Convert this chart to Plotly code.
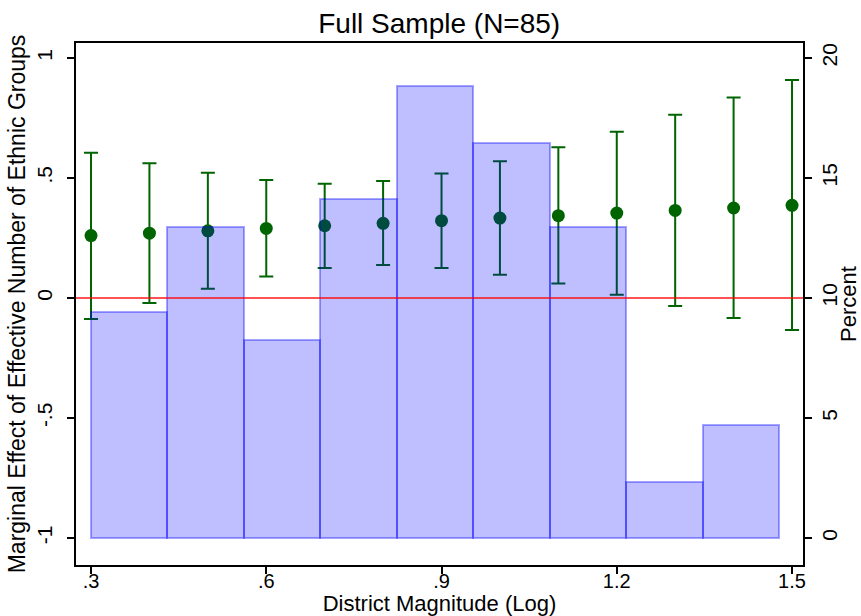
import plotly.graph_objects as go

# ---- data ----
x_vals = [0.3, 0.4, 0.5, 0.6, 0.7, 0.8, 0.9, 1.0, 1.1, 1.2, 1.3, 1.4, 1.5]
effect = [0.260, 0.270, 0.280, 0.290, 0.301, 0.311, 0.322, 0.333, 0.343, 0.354, 0.365, 0.375, 0.386]
ci_low = [-0.088, -0.021, 0.039, 0.090, 0.125, 0.138, 0.125, 0.097, 0.060, 0.014, -0.033, -0.083, -0.133]
ci_high = [0.605, 0.561, 0.522, 0.492, 0.476, 0.488, 0.519, 0.570, 0.628, 0.693, 0.764, 0.835, 0.908]

hist_counts = [8, 11, 7, 12, 16, 14, 11, 2, 4]
n_obs = 85
bin_start = 0.3
bin_width = 0.1309

x_ticks = [0.3, 0.6, 0.9, 1.2, 1.5]
x_ticklabels = [".3", ".6", ".9", "1.2", "1.5"]
y_ticks = [-1, -0.5, 0, 0.5, 1]
y_ticklabels = ["-1", "-.5", "0", ".5", "1"]
y2_ticks = [0, 5, 10, 15, 20]
y2_ticklabels = ["0", "5", "10", "15", "20"]

# ---- derived ----
hist_pct = [c / n_obs * 100 for c in hist_counts]
bin_centers = [bin_start + bin_width * (i + 0.5) for i in range(len(hist_counts))]
err_plus = [h - e for h, e in zip(ci_high, effect)]
err_minus = [e - l for e, l in zip(effect, ci_low)]

FONT = "Arial, Liberation Sans, sans-serif"
green = "#006400"

fig = go.Figure()

fig.add_trace(go.Scatter(
    x=x_vals, y=effect, mode="markers",
    marker=dict(color=green, size=13),
    error_y=dict(type="data", symmetric=False, array=err_plus, arrayminus=err_minus,
                 color=green, thickness=2, width=7),
    yaxis="y", showlegend=False,
))

fig.add_trace(go.Bar(
    x=bin_centers, y=hist_pct, width=[bin_width] * len(hist_pct),
    marker=dict(color="rgba(0,0,255,0.25)", line=dict(color="rgba(0,0,255,0.35)", width=2)),
    yaxis="y2", showlegend=False,
))

fig.add_shape(type="line", xref="paper", x0=0, x1=1, yref="y", y0=0, y1=0,
              line=dict(color="rgba(255,0,0,0.9)", width=1.3), layer="above")

axis_common = dict(showline=True, linecolor="black", linewidth=1.5, ticks="outside", ticklen=7,
                   tickcolor="black", tickwidth=1.5, showgrid=False, zeroline=False,
                   automargin=False)

fig.update_layout(
    width=861, height=616,
    margin=dict(l=76, r=58, t=43, b=51),
    paper_bgcolor="white", plot_bgcolor="white",
    font=dict(family=FONT, color="black"),
    title=dict(text="Full Sample (N=85)", x=0.5101, xanchor="center", y=0.962, yanchor="middle",
               font=dict(size=28, family=FONT)),
    bargap=0,
    xaxis=dict(range=[0.2743, 1.5188], tickvals=x_ticks, ticktext=x_ticklabels,
               mirror=True, tickfont=dict(size=20), ticklabelstandoff=-10,
               title=dict(text="District Magnitude (Log)", font=dict(size=22), standoff=3),
               **axis_common),
    yaxis=dict(range=[-1.1125, 1.0625], tickvals=y_ticks, ticktext=y_ticklabels,
               tickangle=-90, tickfont=dict(size=21), ticklabelstandoff=7,
               title=dict(text="Marginal Effect of Effective Number of Ethnic Groups",
                          font=dict(size=23), standoff=1),
               **axis_common),
    yaxis2=dict(range=[-1.125, 20.625], tickvals=y2_ticks, ticktext=y2_ticklabels,
                overlaying="y", side="right",
                tickangle=-90, tickfont=dict(size=21),
                title=dict(text="Percent", font=dict(size=22), standoff=2),
                **axis_common),
)

fig.write_html("out.html")
